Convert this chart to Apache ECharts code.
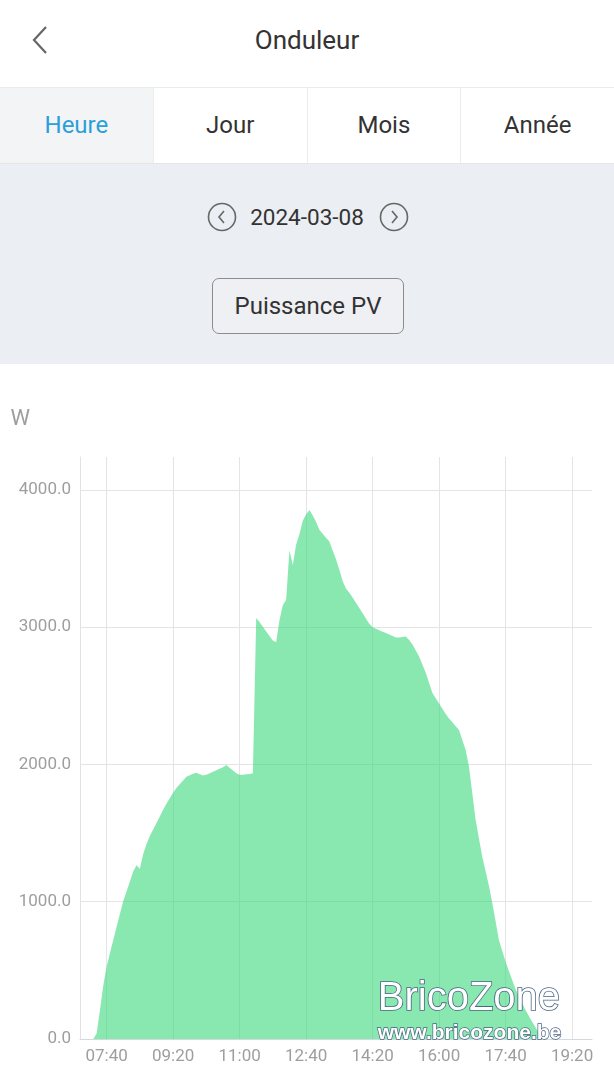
<!DOCTYPE html>
<html><head><meta charset="utf-8">
<script src="https://cdn.jsdelivr.net/npm/echarts@6/dist/echarts.min.js"></script>
<style>
html,body{margin:0;padding:0;width:614px;height:1080px;overflow:hidden;background:#fff;font-family:Roboto,"Noto Sans",sans-serif;}
#top{position:absolute;left:0;top:0;width:614px;height:87px;background:#fff;}
#title{position:absolute;left:0;width:614px;top:0;height:80px;line-height:80px;text-align:center;font-size:26px;color:#333;}
#back{position:absolute;left:30px;top:24px;}
#tabs{position:absolute;left:0;top:87px;width:614px;height:77px;border-top:1px solid #ececec;border-bottom:1px solid #e6e6e6;box-sizing:border-box;display:flex;}
.tab{flex:1;text-align:center;line-height:75px;font-size:24px;color:#333;border-left:1px solid #ececec;}
.tab:first-child{border-left:none;background:#f3f4f6;color:#2a9fd8;}
#panel{position:absolute;left:0;top:164px;width:614px;height:200px;background:#ebeef2;}
#date{position:absolute;left:0;top:36px;width:614px;height:34px;line-height:34px;text-align:center;font-size:22.5px;color:#333;}
.circ{position:absolute;top:38px;}
#btn{position:absolute;left:212px;top:114px;width:192px;height:56px;box-sizing:border-box;border:1px solid #8c8c8c;border-radius:7px;text-align:center;line-height:54px;font-size:24px;color:#333;background:#eef0f3;}
#chart{position:absolute;left:0;top:364px;width:614px;height:716px;}
</style></head>
<body>
<div id="top">
  <svg id="back" width="22" height="32"><polyline points="16,3 4,16 16,29" fill="none" stroke="#666" stroke-width="2.2"/></svg>
  <div id="title">Onduleur</div>
</div>
<div id="tabs"><div class="tab">Heure</div><div class="tab">Jour</div><div class="tab">Mois</div><div class="tab">Année</div></div>
<div id="panel">
  <svg class="circ" style="left:207px" width="30" height="30"><circle cx="15" cy="15" r="13.5" fill="none" stroke="#666" stroke-width="1.6"/><polyline points="17,9 12,15 17,21" fill="none" stroke="#666" stroke-width="1.6"/></svg>
  <div id="date">2024-03-08</div>
  <svg class="circ" style="left:379px" width="30" height="30"><circle cx="15" cy="15" r="13.5" fill="none" stroke="#666" stroke-width="1.6"/><polyline points="13,9 18,15 13,21" fill="none" stroke="#666" stroke-width="1.6"/></svg>
  <div id="btn">Puissance PV</div>
</div>
<div id="chart"></div>
<script>
// category labels: 07:00 .. 19:50 every 5 minutes
const categories = [];
for (let m = 7 * 60; m <= 19 * 60 + 50; m += 5) {
  const h = Math.floor(m / 60), mm = m % 60;
  categories.push((h < 10 ? '0' : '') + h + ':' + (mm < 10 ? '0' : '') + mm);
}
const pvPower = [
  0, 0, 0, 0, 0, 40, 210, 390, 527, 624,
  721, 816, 910, 1003, 1075, 1148, 1220, 1265, 1240, 1345,
  1420, 1479, 1526, 1574, 1621, 1669, 1713, 1753, 1794, 1828,
  1855, 1883, 1911, 1922, 1933, 1940, 1928, 1920, 1924, 1935,
  1946, 1957, 1968, 1980, 1995, 1976, 1955, 1935, 1925, 1924,
  1928, 1931, 1935, 3067, 3037, 3003, 2969, 2936, 2902, 2890,
  3050, 3160, 3200, 3560, 3450, 3600, 3676, 3775, 3820, 3854,
  3813, 3767, 3709, 3680, 3652, 3623, 3558, 3494, 3419, 3337,
  3281, 3250, 3216, 3178, 3140, 3102, 3063, 3025, 3000, 2989,
  2978, 2967, 2957, 2946, 2936, 2925, 2924, 2928, 2932, 2907,
  2873, 2829, 2786, 2727, 2667, 2593, 2520, 2482, 2444, 2406,
  2368, 2335, 2307, 2279, 2251, 2178, 2105, 1984, 1791, 1596,
  1460, 1327, 1222, 1117, 993, 857, 721, 643, 565, 495,
  430, 365, 309, 260, 211, 167, 126, 85, 44, 20,
  0, 0, 0, 0, 0, 0, 0, 0, 0, 0,
  0, 0, 0, 0, 0
];
const unitName = 'W';
const yInterval = 1000;
const firstLabelIndex = 8;   // 07:40
const labelStep = 20;        // every 100 minutes

const showIdx = function (idx) { return idx >= firstLabelIndex && (idx - firstLabelIndex) % labelStep === 0; };

const chart = echarts.init(document.getElementById('chart'), null, { renderer: 'canvas' });
chart.setOption({
  animation: false,
  grid: { left: 80, right: 22, top: 93, bottom: 41, containLabel: false },
  xAxis: {
    type: 'category',
    data: categories,
    boundaryGap: false,
    axisLine: { show: true, lineStyle: { color: '#d3d9df', width: 1 } },
    axisTick: { show: false },
    axisLabel: { interval: showIdx, color: '#9e9e9e', fontSize: 17, fontFamily: 'Roboto', margin: 9 },
    splitLine: { show: true, interval: showIdx, lineStyle: { color: '#e4e4e4', width: 1 } }
  },
  yAxis: {
    type: 'value',
    min: 0,
    max: function (v) { return v.max * 1.1; },
    interval: yInterval,
    name: unitName,
    nameLocation: 'end',
    nameGap: 38,
    nameTextStyle: { color: '#9e9e9e', fontSize: 22, fontFamily: 'Roboto', align: 'right', verticalAlign: 'middle', padding: [0, 50, 0, 0] },
    axisLine: { show: true, lineStyle: { color: '#e2e2e2', width: 1 } },
    axisTick: { show: false },
    axisLabel: { color: '#9e9e9e', fontSize: 17, fontFamily: 'Roboto', margin: 9, showMaxLabel: false,
      formatter: function (v) { return v.toFixed(1); } },
    splitLine: { show: true, showMaxLine: false, lineStyle: { color: '#e4e4e4', width: 1 } }
  },
  series: [{
    type: 'line',
    data: pvPower,
    showSymbol: false,
    symbol: 'none',
    lineStyle: { width: 0 },
    areaStyle: { color: '#39d97b', opacity: 0.6 }
  }],
  graphic: [
    { type: 'text', left: 377, top: 614, z: 100,
      style: { text: 'BricoZone', font: '40px "Liberation Sans"', fill: '#ffffff', stroke: '#4b6584', lineWidth: 1.6 } },
    { type: 'text', left: 377, top: 658, z: 100,
      style: { text: 'www.bricozone.be', font: 'bold 21px "Liberation Sans"', fill: '#ffffff', stroke: '#4b6584', lineWidth: 1.4 } }
  ]
});
</script>
</body></html>
